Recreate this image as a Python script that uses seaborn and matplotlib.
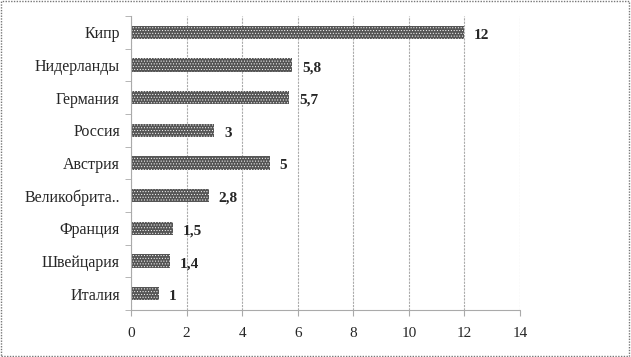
import matplotlib
matplotlib.use("Agg")
import matplotlib.pyplot as plt
import seaborn as sns
import pandas as pd
from matplotlib.patches import Rectangle
from matplotlib.ticker import MultipleLocator

countries = ["Кипр", "Нидерланды", "Германия", "Россия", "Австрия",
             "Великобрита..", "Франция", "Швейцария", "Италия"]
values = [12, 5.8, 5.7, 3, 5, 2.8, 1.5, 1.4, 1]
labels = ["12", "5,8", "5,7", "3", "5", "2,8", "1,5", "1,4", "1"]

df = pd.DataFrame({"country": countries, "value": values})

sns.set_style("white")
plt.rcParams["font.family"] = ["Liberation Serif", "DejaVu Serif"]
plt.rcParams["hatch.color"] = "#7a7a7a"
plt.rcParams["hatch.linewidth"] = 0.4

fig = plt.figure(figsize=(6.31, 3.57), dpi=100)
ax = fig.add_axes([131 / 631, 1 - 310 / 357, 389 / 631, 294 / 357])

sns.barplot(data=df, x="value", y="country", orient="h", color="#555555",
            width=0.4, saturation=1, ax=ax)
for p in ax.patches:
    p.set_hatch("......")
    p.set_linewidth(0)

# value labels
for i, (v, t) in enumerate(zip(values, labels)):
    ax.annotate(t, (v, i), xytext=(7, -2), textcoords="offset points",
                ha="left", va="center", fontsize=11, fontweight="bold")

ax.set_xlim(0, 14)
ax.set_ylim(len(countries) - 0.5, -0.5)
ax.xaxis.set_major_locator(MultipleLocator(2))
ax.set_xlabel("")
ax.set_ylabel("")
ax.grid(axis="x", color="#aaaaaa", linestyle=(0, (2, 1)), linewidth=0.8)
ax.set_axisbelow(True)

for s in ["top", "right"]:
    ax.spines[s].set_visible(False)
for s in ["left", "bottom"]:
    ax.spines[s].set_color("#aaaaaa")
    ax.spines[s].set_linestyle((0, (2, 1)))

ax.tick_params(axis="x", direction="out", length=4, color="#aaaaaa",
               labelsize=11, pad=8, bottom=True)
ax.set_yticks(range(len(countries)))
ax.set_yticklabels(countries, fontsize=11.5)
ax.tick_params(axis="y", which="major", length=0, pad=8)
ax.set_yticks([i + 0.5 for i in range(-1, len(countries))], minor=True)
ax.tick_params(axis="y", which="minor", direction="out", length=4,
               color="#aaaaaa", left=True)

# dotted frame around the picture
fig.patches.append(Rectangle((0.002, 0.004), 0.995, 0.992,
                             transform=fig.transFigure, fill=False,
                             edgecolor="#777777", linestyle=(0, (1, 1)),
                             linewidth=1))

fig.savefig("out.png", dpi=100)
